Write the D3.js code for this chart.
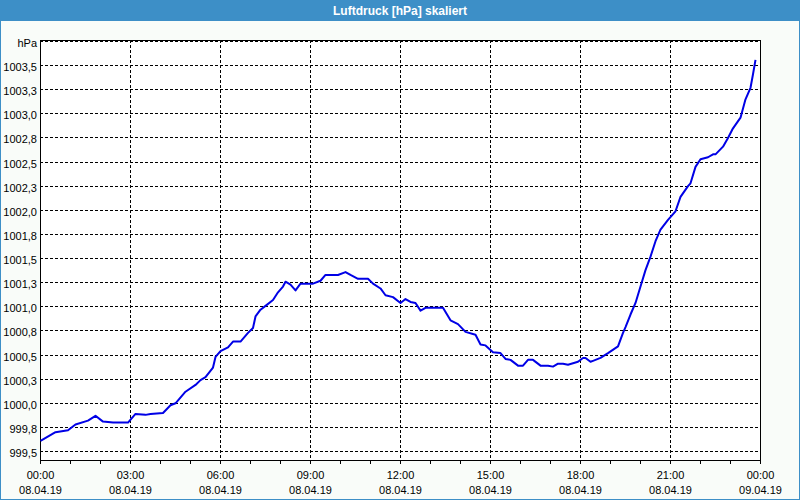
<!DOCTYPE html>
<html>
<head>
<meta charset="utf-8">
<script src="https://cdn.jsdelivr.net/npm/d3@7"></script>
<style>
  html, body { margin: 0; padding: 0; background: #f9fcf9; }
  svg { display: block; }
  text { font-family: "Liberation Sans", Arial, sans-serif; }
</style>
</head>
<body>
<svg id="chart" width="800" height="500"></svg>
<script>
// ---- data ----
const chartTitle = "Luftdruck [hPa] skaliert";
const times = [
  "00:00","00:30","00:55","01:10","01:35","01:50","02:05","02:25","02:55","03:10",
  "03:30","03:40","04:05","04:20","04:30","04:50","05:10","05:20","05:30","05:45",
  "05:50","06:00","06:15","06:25","06:40","06:55","07:05","07:10","07:20","07:30",
  "07:45","07:55","08:05","08:10","08:20","08:30","08:40","09:05","09:20","09:30",
  "09:55","10:10","10:20","10:35","10:55","11:05","11:20","11:30","11:45","12:00",
  "12:10","12:20","12:30","12:40","12:50","13:25","13:40","13:55","14:10","14:30",
  "14:40","14:50","15:05","15:20","15:30","15:40","15:55","16:05","16:15","16:25",
  "16:40","16:55","17:05","17:15","17:25","17:35","17:55","18:05","18:10","18:20",
  "18:25","18:40","18:55","19:15","19:25","19:30","19:40","19:50","20:00","20:10",
  "20:20","20:30","20:40","20:55","21:10","21:20","21:35","21:40","21:50","22:00",
  "22:15","22:25","22:30","22:45","22:55","23:05","23:20","23:30","23:40","23:45",
  "23:50"
];
const pressure = [
  999.61, 999.70, 999.72, 999.78, 999.82, 999.87, 999.81, 999.80, 999.80, 999.89,
  999.88, 999.89, 999.90, 999.98, 1000.00, 1000.12, 1000.19, 1000.24, 1000.27, 1000.37,
  1000.48, 1000.54, 1000.58, 1000.64, 1000.64, 1000.73, 1000.78, 1000.90, 1000.97, 1001.01,
  1001.07, 1001.15, 1001.21, 1001.26, 1001.23, 1001.17, 1001.24, 1001.24, 1001.27, 1001.33,
  1001.33, 1001.36, 1001.33, 1001.29, 1001.29, 1001.24, 1001.19, 1001.12, 1001.10, 1001.04,
  1001.08, 1001.05, 1001.04, 1000.96, 1000.99, 1000.99, 1000.86, 1000.82, 1000.74, 1000.71,
  1000.61, 1000.60, 1000.53, 1000.52, 1000.46, 1000.45, 1000.39, 1000.39, 1000.45, 1000.45,
  1000.39, 1000.39, 1000.38, 1000.41, 1000.41, 1000.40, 1000.43, 1000.47, 1000.47, 1000.43,
  1000.44, 1000.47, 1000.52, 1000.59, 1000.73, 1000.79, 1000.92, 1001.04, 1001.21, 1001.38,
  1001.52, 1001.68, 1001.80, 1001.90, 1001.99, 1002.14, 1002.25, 1002.28, 1002.45, 1002.53,
  1002.55, 1002.58, 1002.58, 1002.66, 1002.75, 1002.85, 1002.96, 1003.15, 1003.27, 1003.41,
  1003.56
];
const yTickValues = [999.5, 999.75, 1000.0, 1000.25, 1000.5, 1000.75, 1001.0, 1001.25, 1001.5,
  1001.75, 1002.0, 1002.25, 1002.5, 1002.75, 1003.0, 1003.25, 1003.5, 1003.75];
const yTickLabels = ["999,5","999,8","1000,0","1000,3","1000,5","1000,8","1001,0","1001,3","1001,5",
  "1001,8","1002,0","1002,3","1002,5","1002,8","1003,0","1003,3","1003,5","hPa"];
const xStart = "2019-04-08T00:00", xEnd = "2019-04-09T00:00";
const dayOf = "2019-04-08";

// ---- layout ----
const W = 800, H = 500;
const L = 40, R = 760, T = 40, B = 460;
const svg = d3.select("#chart");

const parse = d3.timeParse("%Y-%m-%dT%H:%M");
const data = times.map((t, i) => ({ t: parse(dayOf + "T" + t), v: pressure[i] }));

const x = d3.scaleTime().domain([parse(xStart), parse(xEnd)]).range([L + 0.5, R + 0.5]);
const y = d3.scaleLinear().domain([999.407, 1003.760]).range([B + 0.5, T + 0.5]);

// background
svg.append("rect").attr("x", 0).attr("y", 0).attr("width", W).attr("height", H).attr("fill", "#f9fcf9");

// title bar
svg.append("rect").attr("x", 0).attr("y", 0).attr("width", W).attr("height", 21).attr("fill", "#3d8fc7");
svg.append("text").attr("x", W / 2).attr("y", 11).attr("dy", "0.35em")
  .attr("text-anchor", "middle").attr("fill", "#ffffff")
  .attr("font-size", 12).attr("font-weight", "bold").text(chartTitle);

// window border
svg.append("rect").attr("x", 0.5).attr("y", 0.5).attr("width", W - 1).attr("height", H - 1)
  .attr("fill", "none").attr("stroke", "#3d8fc7").attr("stroke-width", 1);

// plot background
svg.append("rect").attr("x", L).attr("y", T).attr("width", R - L).attr("height", B - T).attr("fill", "#ffffff");

// horizontal grid
const yPix = v => Math.round(y(v) - 0.5) + 0.5;
svg.append("g").selectAll("line").data(yTickValues).join("line")
  .attr("x1", L).attr("x2", R)
  .attr("y1", d => yPix(d)).attr("y2", d => yPix(d))
  .attr("stroke", "#000").attr("stroke-width", 1).attr("stroke-dasharray", "3,2")
  .attr("shape-rendering", "crispEdges");

// vertical grid
const majorTicks = x.ticks(d3.timeHour.every(3));
svg.append("g").selectAll("line").data(majorTicks.slice(1, -1)).join("line")
  .attr("x1", d => x(d)).attr("x2", d => x(d))
  .attr("y1", T).attr("y2", B)
  .attr("stroke", "#000").attr("stroke-width", 1).attr("stroke-dasharray", "3,2")
  .attr("shape-rendering", "crispEdges");

// y labels
svg.append("g").selectAll("text").data(yTickValues).join("text")
  .attr("x", 37).attr("y", d => yPix(d) + 1.5).attr("dy", "0.35em")
  .attr("text-anchor", "end").attr("font-size", 11).attr("fill", "#000")
  .text((d, i) => yTickLabels[i]);

// x axis ticks (hourly)
const minorTicks = x.ticks(d3.timeHour.every(1));
svg.append("g").selectAll("line").data(minorTicks).join("line")
  .attr("x1", d => x(d)).attr("x2", d => x(d))
  .attr("y1", B).attr("y2", B + 4)
  .attr("stroke", "#000").attr("stroke-width", 1).attr("shape-rendering", "crispEdges");

// x labels
const fmtTime = d3.timeFormat("%H:%M"), fmtDate = d3.timeFormat("%d.%m.%y");
const xl = svg.append("g").selectAll("g").data(majorTicks).join("g");
xl.append("text").attr("x", d => x(d)).attr("y", 475).attr("dy", "0.35em")
  .attr("text-anchor", "middle").attr("font-size", 11).attr("fill", "#000").text(d => fmtTime(d));
xl.append("text").attr("x", d => x(d)).attr("y", 490).attr("dy", "0.35em")
  .attr("text-anchor", "middle").attr("font-size", 11).attr("fill", "#000").text(d => fmtDate(d));

// plot frame
svg.append("rect").attr("x", L + 0.5).attr("y", T + 0.5).attr("width", R - L).attr("height", B - T)
  .attr("fill", "none").attr("stroke", "#000").attr("stroke-width", 1).attr("shape-rendering", "crispEdges");

// data line
const line = d3.line().x(d => x(d.t)).y(d => y(d.v));
svg.append("path").datum(data).attr("d", line)
  .attr("fill", "none").attr("stroke", "#0000e6").attr("stroke-width", 2)
  .attr("stroke-linejoin", "round");
</script>
</body>
</html>
